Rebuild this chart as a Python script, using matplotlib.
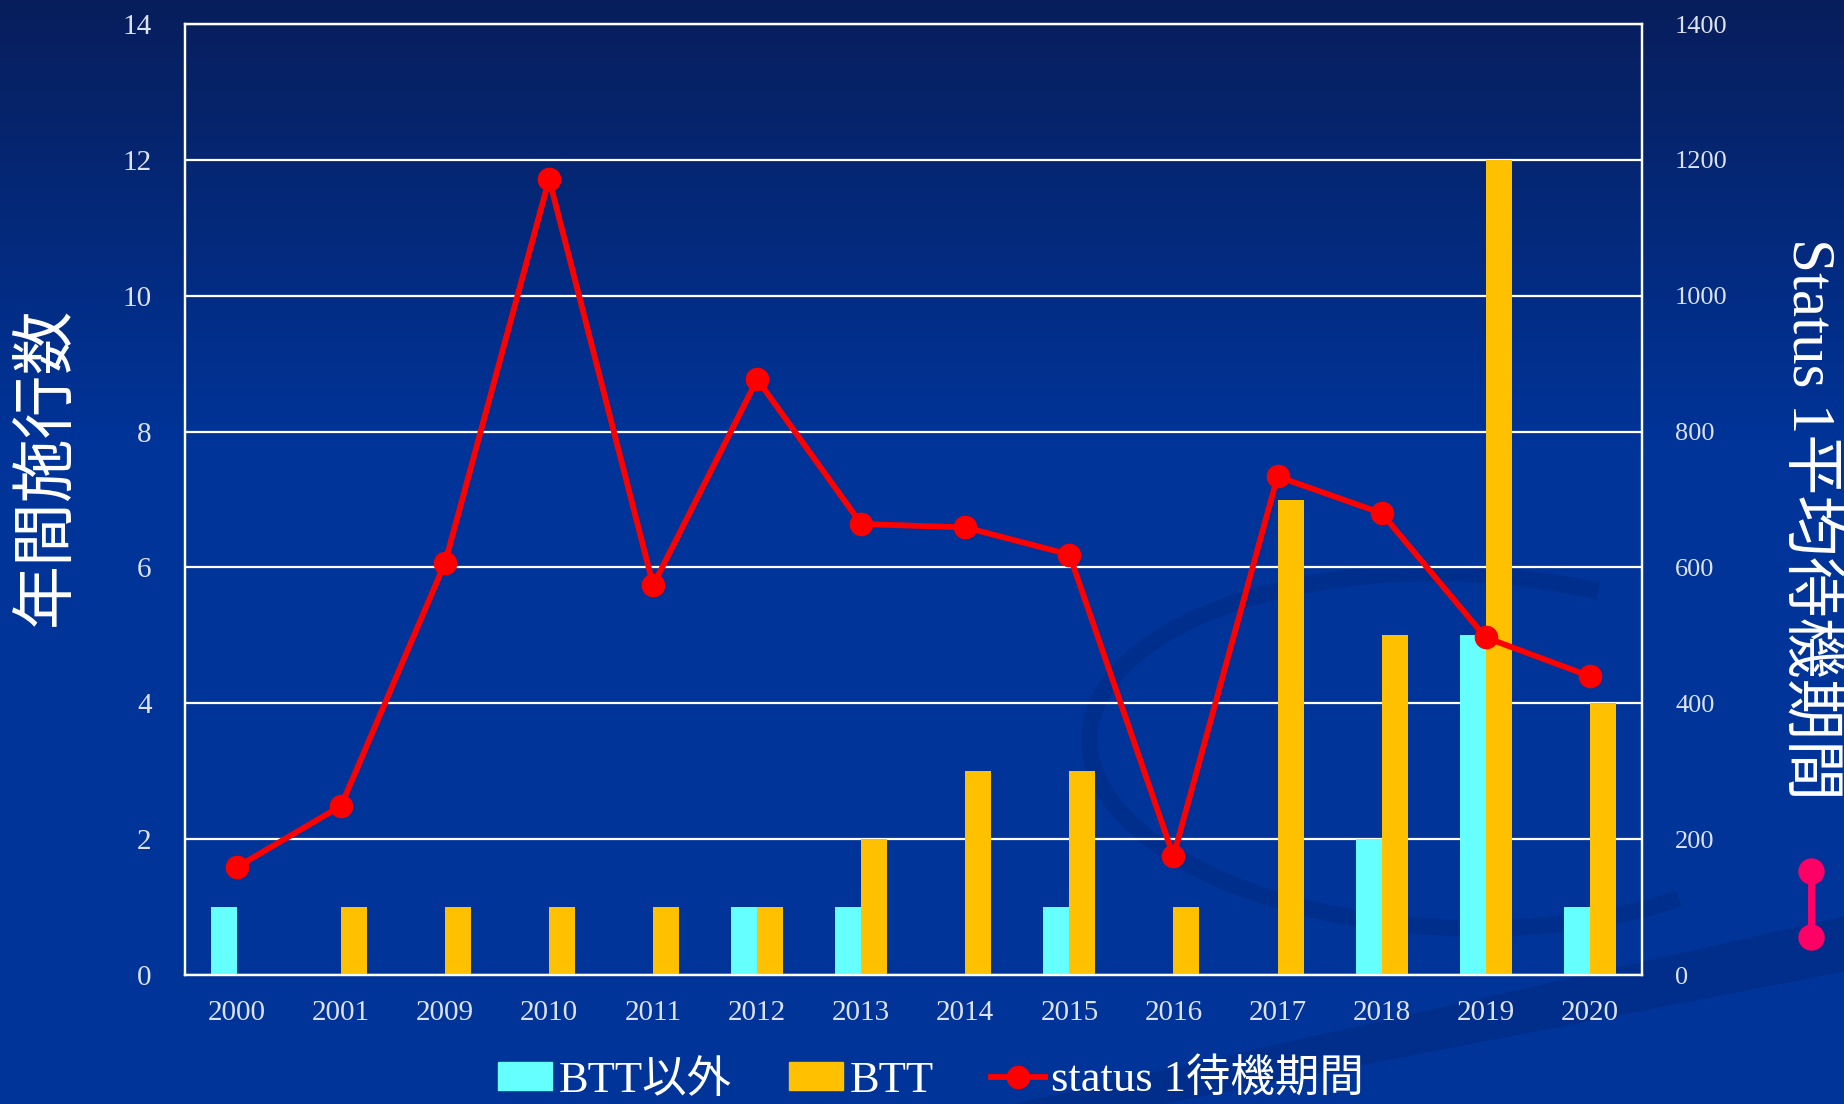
import numpy as np
import matplotlib
matplotlib.use('Agg')
import matplotlib.pyplot as plt
from matplotlib.patches import Patch, Arc, Polygon
from matplotlib.lines import Line2D

plt.rcParams['font.family'] = ['Liberation Serif', 'Noto Sans CJK JP']

years = ['2000', '2001', '2009', '2010', '2011', '2012', '2013',
         '2014', '2015', '2016', '2017', '2018', '2019', '2020']
non_btt = [1, 0, 0, 0, 0, 1, 1, 0, 1, 0, 0, 2, 5, 1]
btt = [0, 1, 1, 1, 1, 1, 2, 3, 3, 1, 7, 5, 12, 4]
wait_days = [159, 249, 607, 1172, 574, 877, 664, 659, 619, 175, 734, 680, 497, 440]

left_ticks = [0, 2, 4, 6, 8, 10, 12, 14]
right_ticks = [0, 200, 400, 600, 800, 1000, 1200, 1400]

CYAN = '#66ffff'
ORANGE = '#ffc000'
RED = '#ff0000'
TICK_COLOR = '#dde3ee'

fig = plt.figure(figsize=(18.44, 11.04), dpi=100)

# background gradient + swooshes
bg = fig.add_axes([0, 0, 1, 1], zorder=-10)
t = np.linspace(0, 1, 256)
top = np.array([8, 30, 92]) / 255
mid = np.array([0, 52, 153]) / 255
w = np.clip(t / 0.4, 0, 1)[:, None]
grad = top * (1 - w) + mid * w
bg.imshow(grad[:, None, :], extent=[0, 1, 0, 1], aspect='auto', origin='upper')
bg.add_patch(Arc((0.79, 0.32), 0.40, 0.32, angle=-8, theta1=70, theta2=320,
                 lw=12, color='#002a80', alpha=0.5))
bg.add_patch(Polygon([[0.55, 0.0], [1.0, 0.17], [1.0, 0.12], [0.63, 0.0]],
                     closed=True, color='#002a80', alpha=0.6, lw=0))
bg.set_xlim(0, 1)
bg.set_ylim(0, 1)
bg.axis('off')

ax = fig.add_axes([0.1003, 0.1168, 0.790, 0.8614])
ax.patch.set_alpha(0)
x = np.arange(len(years)) + 0.5
bw = 0.25
ax.bar(x - bw / 2, non_btt, bw, color=CYAN, zorder=3)
ax.bar(x + bw / 2, btt, bw, color=ORANGE, zorder=3)
ax.set_xlim(0, len(years))
ax.set_ylim(0, 14)
ax.set_yticks(left_ticks)
ax.set_xticks(x)
ax.set_xticklabels(years)
ax.yaxis.grid(True, color='white', lw=1.6, zorder=1)
ax.set_axisbelow(True)
ax.tick_params(axis='both', length=0, colors=TICK_COLOR, labelsize=21)
ax.tick_params(axis='y', pad=24)
ax.tick_params(axis='x', pad=18)
for s in ax.spines.values():
    s.set_color('white')
    s.set_linewidth(1.6)

ax2 = ax.twinx()
ax2.patch.set_alpha(0)
ax2.plot(x, wait_days, color=RED, lw=4.2, marker='o', markersize=16, zorder=5)
ax2.set_ylim(0, 1400)
ax2.set_yticks(right_ticks)
ax2.tick_params(axis='y', length=0, colors=TICK_COLOR, labelsize=19, pad=24)
for s in ax2.spines.values():
    s.set_color('white')
    s.set_linewidth(1.6)

fig.text(0.026, 0.578, '年間施行数', color='white', fontsize=46,
         rotation=90, ha='center', va='center')
fig.text(0.981, 0.53, 'Status 1平均待機期間', color='white', fontsize=44,
         rotation=270, ha='center', va='center')

# pink dumbbell mark at right
fig.add_artist(Line2D([0.982, 0.982], [0.151, 0.211], color='#ff0066', lw=5,
                      marker='o', markersize=18, transform=fig.transFigure))

handles = [Patch(color=CYAN), Patch(color=ORANGE),
           Line2D([], [], color=RED, lw=4.2, marker='o', markersize=16)]
labels = ['BTT以外', 'BTT', 'status 1待機期間']
leg = fig.legend(handles, labels, loc='center', bbox_to_anchor=(0.505, 0.022),
                 ncol=3, frameon=False, fontsize=32, handlelength=1.2,
                 handleheight=0.6, handletextpad=0.15, columnspacing=1.3,
                 labelcolor='white')

fig.savefig('out.png', dpi=100)
